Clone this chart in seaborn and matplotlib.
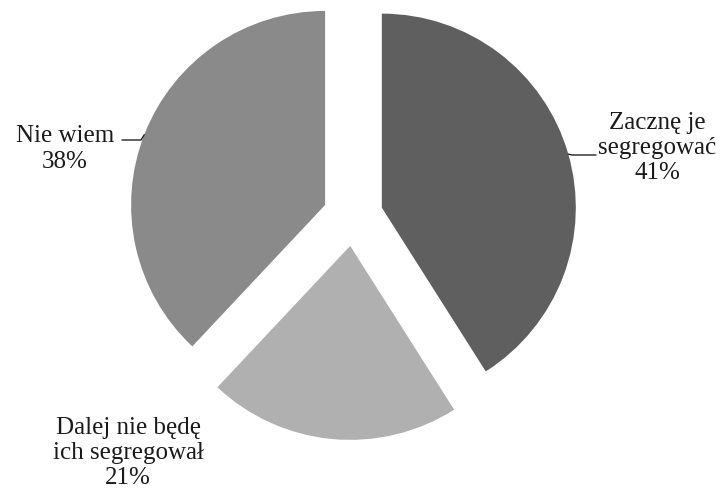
# pie chart of answers about waste segregation
import numpy as np
import matplotlib.pyplot as plt
import seaborn as sns

labels = ['Zacznę je\nsegregować', 'Dalej nie będę\nich segregował', 'Nie wiem']
shares = [41, 21, 38]
colors = ['#5f5f5f', '#b0b0b0', '#8a8a8a']

sns.set_style('white')
plt.rcParams['font.family'] = ['Liberation Serif', 'DejaVu Serif']

fig = plt.figure(figsize=(7.26, 4.95), dpi=100)
ax = fig.add_axes([0, 0, 1, 1])

cx, cy, r = 353, 279, 194
# explode is in data units here (axes are in pixels)
wedges, _ = ax.pie(shares, colors=colors, startangle=90, counterclock=False,
                   explode=[30] * 3, radius=r, center=(cx, cy),
                   wedgeprops=dict(linewidth=0), frame=True)
ax.set_xlim(0, 726)
ax.set_ylim(0, 495)
ax.axis('off')

# label positions (text centre)
txt_pos = [(657, 347), (128, 42), (65, 346)]
for lab, s, (tx, ty) in zip(labels, shares, txt_pos):
    ax.text(tx, ty, f'{lab}\n{s}%', ha='center', va='center', fontsize=18,
            color='#1a1a1a', linespacing=1.2)

# leader lines for the two side labels
for i, (x0, x1, yl, ang) in [(0, (596, 572, 340, 16)), (2, (122, 141, 355, 158.8))]:
    wx, wy = wedges[i].center
    px = wx + r * np.cos(np.radians(ang))
    py = wy + r * np.sin(np.radians(ang))
    ax.plot([x0, x1, px], [yl, yl, py], color='#222222', lw=1)

plt.savefig('out.png', dpi=100)
